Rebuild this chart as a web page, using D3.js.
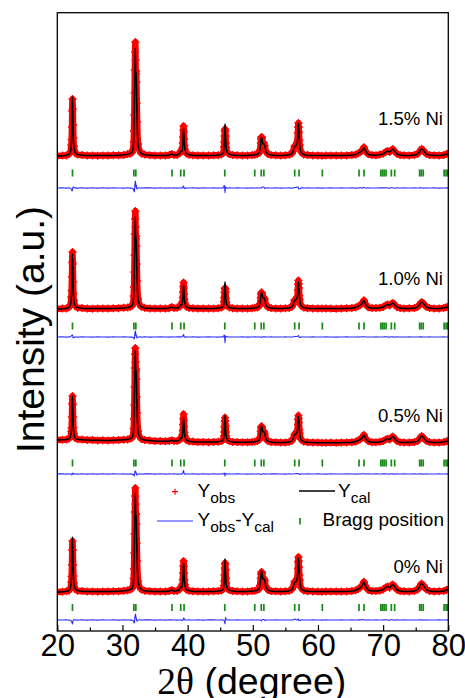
<!DOCTYPE html>
<html>
<head>
<meta charset="utf-8">
<script src="https://cdn.jsdelivr.net/npm/d3@7"></script>
<style>
  body { margin: 0; background: #fff; }
  svg { display: block; }
  text { font-family: "Liberation Sans", Arial, sans-serif; fill: #000; }
</style>
</head>
<body>
<svg id="chart" width="465" height="698"></svg>
<script>
// ---- data -------------------------------------------------------------
// 2θ sampling (degree), shared by all four refinements
const twoTheta = [
  20.0, 20.8, 21.4, 21.8, 22.0, 22.15, 22.2, 22.25, 22.29, 22.33, 22.37, 22.42, 22.47, 22.55, 22.75, 23.1,
  23.8, 24.6, 25.4, 26.2, 27.0, 27.8, 28.6, 29.4, 30.2, 30.8, 31.2, 31.45,
  31.6, 31.72, 31.77, 31.82, 31.86, 31.9, 31.94, 31.97, 32.01, 32.05, 32.1, 32.14, 32.19, 32.25, 32.4, 32.6, 32.9, 33.4,
  34.2, 35.0, 35.8, 36.6, 37.2, 37.56, 37.9, 38.4,
  38.8, 38.94, 39.1, 39.22, 39.26, 39.3, 39.34, 39.38, 39.42, 39.46, 39.51, 39.58, 39.8, 40.2,
  40.8, 41.6, 42.4, 43.2, 44.0, 44.7, 45.2, 45.45,
  45.58, 45.62, 45.66, 45.7, 45.74, 45.78, 45.82, 45.87, 45.92, 46.1, 46.4, 46.9,
  47.6, 48.4, 49.2, 49.9, 50.3, 50.7, 50.95,
  51.1, 51.22, 51.27, 51.32, 51.37, 51.42, 51.55, 51.7, 51.82, 52.0, 52.3, 52.8,
  53.5, 54.3, 55.0, 55.6, 56.0,
  56.2, 56.4, 56.6, 56.8, 56.92, 56.96, 57.0, 57.04, 57.08, 57.14, 57.2, 57.4, 57.8,
  58.4, 59.2, 60.0, 60.6, 61.2, 62.0, 62.8, 63.6, 64.4, 65.2, 65.8,
  66.2, 66.5, 66.8, 67.05, 67.3, 67.7,
  68.3, 68.9, 69.5,
  70.0, 70.4, 70.7, 71.0, 71.25, 71.5, 71.75, 72.1, 72.6,
  73.2, 74.0, 74.8, 75.3,
  75.6, 75.9, 76.2, 76.6, 77.1,
  77.8, 78.6, 79.3, 79.7, 80.0
];

const sampleNames = ["0% Ni", "0.5% Ni", "1.0% Ni", "1.5% Ni"];

// observed / calculated intensities (a.u.)
const obs0 = [
  0.1, 0.3, 0.8, 1.6, 3.6, 10, 15.5, 27, 42, 51, 42, 27, 16, 9.2, 3.4, 1.3,
  0.9, 0.4, 0.5, 0.3, 0.5, 0.5, 0.7, 0.7, 1.3, 1.8, 2.5, 3.4,
  5.5, 13.5, 23, 39, 58, 80, 96, 104, 88, 78, 78, 68, 49, 31, 11, 5.2, 2.4, 1.3,
  0.8, 0.4, 0.6, 0.5, 1, 2.1, 0.9, 1.1,
  3.1, 5, 4.5, 8, 12.5, 19, 26, 31, 25.5, 19, 12, 7.5, 2.6, 1.3,
  0.7, 0.6, 0.4, 0.6, 0.7, 0.9, 1.6, 3,
  6.5, 11, 17, 24, 29, 28, 22, 14, 9, 3.6, 1.9, 0.9,
  0.7, 0.5, 0.6, 0.9, 1.3, 1.9, 3,
  6.5, 14, 18, 20, 20, 18.5, 13.5, 13.5, 11.5, 5.6, 2.2, 1,
  0.7, 0.5, 0.7, 1.2, 2.6,
  5, 10.5, 10.5, 13.5, 23.5, 30, 35, 31, 25, 17, 12, 4.3, 1.5,
  0.8, 0.6, 0.4, 0.3, 0.5, 0.4, 0.4, 0.6, 0.6, 1, 1.7,
  3.1, 4.6, 6.9, 10.2, 6, 2.1,
  1, 1, 1.5,
  2.5, 4.6, 5.5, 4.3, 6.5, 7.6, 5.5, 2.5, 1,
  0.7, 0.6, 1.1, 2.5,
  5.5, 8.6, 6.5, 2.7, 1.1,
  0.6, 0.7, 1.1, 2.1, 2.7
];
const cal0 = [
  0, 0.3, 0.7, 1.7, 3.8, 11, 17, 30, 45, 55, 44, 28, 16, 9, 3.3, 1.4,
  0.8, 0.5, 0.4, 0.4, 0.4, 0.5, 0.6, 0.8, 1.2, 1.8, 2.6, 3.5,
  6, 15, 26, 42, 60, 77, 91, 99, 82, 74, 77, 66, 50, 32, 11, 5, 2.5, 1.2,
  0.7, 0.5, 0.5, 0.6, 0.9, 2, 0.9, 1.2,
  3, 5, 4.6, 8.5, 12.5, 19, 25, 29, 23.5, 17.5, 11.5, 7.2, 2.6, 1.2,
  0.7, 0.5, 0.5, 0.5, 0.6, 0.9, 1.5, 3,
  7.2, 12, 18.5, 27, 33, 27, 19.5, 12.5, 8.2, 3.6, 1.8, 0.9,
  0.6, 0.5, 0.6, 0.8, 1.3, 1.8, 3,
  6.5, 14, 18.5, 21, 20.5, 18.5, 13, 13, 12, 5.5, 2.2, 1,
  0.6, 0.5, 0.7, 1.2, 2.5,
  5, 9.5, 10, 13.5, 22.5, 29, 34, 31, 25.5, 17.5, 12.5, 4.2, 1.5,
  0.8, 0.5, 0.4, 0.4, 0.4, 0.4, 0.4, 0.5, 0.6, 0.9, 1.7,
  3, 4.5, 6.5, 10, 6, 2,
  1, 0.9, 1.5,
  2.4, 4.4, 5.5, 4.4, 6.2, 7.5, 5.6, 2.4, 1,
  0.6, 0.6, 1.1, 2.5,
  5.4, 8.5, 6.6, 2.6, 1.1,
  0.6, 0.6, 1.1, 2, 2.7
];

const obs05 = [
  3.1, 3.3, 3.4, 4.5, 6, 11.5, 15, 26, 39.5, 47, 38.5, 26, 15.5, 9.5, 4.9, 3.7,
  3.4, 2.9, 2.9, 2.6, 2.7, 2.5, 2.8, 2.9, 3.3, 3.6, 4.5, 5.1,
  7, 14.5, 24, 38, 56, 75, 89, 95, 81, 72, 74, 64, 46, 30, 12, 6.6, 4.1, 3.1,
  2.5, 1.9, 1.9, 1.7, 2.1, 2.8, 2.0, 1.9,
  3.5, 5.3, 4.7, 8.5, 12.5, 18.5, 24.5, 28.9, 22.5, 16.5, 10.5, 6.8, 3.1, 1.8,
  1.4, 0.9, 1.0, 0.8, 1.1, 1.2, 2.0, 3.2,
  7, 11, 16, 22, 25.4, 22, 17, 11, 7.2, 3.1, 2.0, 1.1,
  0.9, 0.7, 0.7, 1.1, 1.4, 2.0, 3,
  5.5, 12, 15, 16.7, 16.5, 15, 11.2, 11.5, 9.8, 4.7, 2, 1,
  0.7, 0.5, 0.6, 1.2, 2.3,
  4.5, 8.8, 9.3, 12, 18.5, 23.5, 27.5, 24.5, 20.5, 13.5, 9.8, 3.6, 1.4,
  0.8, 0.4, 0.4, 0.3, 0.2, 0.4, 0.3, 0.4, 0.6, 0.8, 1.4,
  2.7, 3.8, 5.5, 8.2, 4.8, 1.8,
  0.8, 0.8, 1.2,
  2, 3.6, 4.2, 3.5, 5.4, 6.6, 4.7, 2.1, 0.8,
  0.6, 0.5, 1, 2,
  4.5, 7.1, 5.3, 2.2, 0.9,
  0.5, 0.6, 0.9, 1.7, 2.2
];
const cal05 = [
  3, 3.2, 3.5, 4.4, 6, 11.5, 15.5, 27, 39, 47, 38, 25, 15, 9.5, 4.8, 3.8,
  3.3, 3.0, 2.8, 2.7, 2.6, 2.6, 2.7, 2.9, 3.2, 3.7, 4.4, 5.2,
  7.5, 15.5, 26, 40, 56, 73, 86, 93, 78, 70, 73, 64, 47, 31, 12, 6.5, 4.2, 3,
  2.4, 2.0, 1.8, 1.8, 2.0, 2.8, 1.9, 2.0,
  3.5, 5.2, 4.8, 8, 11.5, 16.5, 21.5, 25.4, 20.5, 15.5, 10.5, 7, 3, 1.8,
  1.3, 1.0, 0.9, 0.9, 1.0, 1.3, 1.9, 3.2,
  6.2, 10, 15.5, 22.5, 27.4, 22, 16.5, 10.5, 7, 3.2, 1.9, 1.1,
  0.8, 0.7, 0.8, 1.0, 1.4, 1.9, 3,
  5.5, 12, 15.5, 17.2, 16.8, 15.2, 11.2, 11.2, 10, 4.6, 2, 0.9,
  0.6, 0.5, 0.7, 1.1, 2.3,
  4.5, 8.5, 9, 11.5, 18, 23, 27, 24.5, 20.5, 14, 10, 3.5, 1.4,
  0.7, 0.4, 0.3, 0.3, 0.3, 0.3, 0.3, 0.4, 0.5, 0.8, 1.5,
  2.6, 3.8, 5.3, 8, 4.8, 1.7,
  0.8, 0.7, 1.2,
  1.9, 3.5, 4.2, 3.6, 5.2, 6.5, 4.8, 2, 0.8,
  0.5, 0.5, 0.9, 2,
  4.4, 7, 5.4, 2.1, 0.9,
  0.5, 0.5, 0.9, 1.6, 2.2
];

const obs10 = [
  0, 0.4, 0.6, 1.8, 4, 12, 18.5, 32, 47, 57, 45, 27, 15.5, 8.5, 3.4, 1.3,
  0.9, 0.5, 0.3, 0.5, 0.4, 0.4, 0.7, 0.8, 1.2, 1.6, 2.2, 3.1,
  5, 13, 22, 37, 54, 75, 90, 98, 82, 70, 73, 63, 45, 28, 10, 4.8, 2.2, 1.2,
  0.6, 0.5, 0.6, 0.6, 0.8, 1.9, 0.9, 1.2,
  2.7, 4.6, 4, 7.5, 11.5, 17, 22.5, 26.5, 21, 15, 9.5, 5.8, 2.3, 1.1,
  0.8, 0.4, 0.5, 0.6, 0.6, 0.8, 1.5, 2.7,
  7.5, 11.5, 16.5, 20, 21, 20, 17, 11, 7, 3.1, 1.6, 0.8,
  0.6, 0.6, 0.5, 0.8, 1.3, 1.6, 2.6,
  5.4, 11.5, 15, 16.5, 16.5, 15, 11, 11.5, 10, 4.6, 1.8, 0.9,
  0.6, 0.5, 0.8, 1.1, 2.2,
  4.5, 9, 9.5, 12, 19, 24.5, 28.5, 25.5, 21, 13.5, 9.5, 3.6, 1.4,
  0.8, 0.6, 0.4, 0.4, 0.5, 0.4, 0.3, 0.5, 0.7, 0.9, 1.6,
  2.9, 4, 5.8, 8.7, 5, 1.8,
  0.9, 0.9, 1.3,
  2, 3.8, 4.5, 3.5, 5.2, 6.1, 4.4, 2.1, 0.9,
  0.6, 0.7, 1, 2.2,
  4.6, 7.1, 5.5, 2.2, 1.1,
  0.6, 0.6, 1.1, 1.8, 2.4
];
const cal10 = [
  0, 0.3, 0.7, 1.7, 3.8, 11, 17, 30, 45, 55, 44, 28, 16, 9, 3.3, 1.4,
  0.8, 0.5, 0.4, 0.4, 0.4, 0.5, 0.6, 0.8, 1.1, 1.6, 2.3, 3.2,
  5.5, 14, 24, 39, 55, 72, 85, 92, 76, 68, 72, 61, 46, 29, 10, 4.6, 2.3, 1.1,
  0.7, 0.5, 0.5, 0.6, 0.9, 1.8, 0.9, 1.1,
  2.6, 4.5, 4, 7, 10.5, 15.5, 20.5, 24, 19.5, 14.5, 9.5, 6, 2.2, 1.1,
  0.7, 0.5, 0.5, 0.5, 0.6, 0.9, 1.4, 2.7,
  6, 9.5, 15, 22, 27, 22, 16, 10, 6.7, 3, 1.6, 0.8,
  0.6, 0.5, 0.6, 0.8, 1.2, 1.6, 2.7,
  5.4, 11.5, 15, 17, 16.5, 15, 11, 11, 10, 4.5, 1.8, 0.8,
  0.6, 0.5, 0.7, 1.1, 2.2,
  4.5, 8.5, 9, 11.5, 18, 23, 27, 24.5, 20.5, 14, 10, 3.5, 1.4,
  0.8, 0.5, 0.4, 0.4, 0.4, 0.4, 0.4, 0.5, 0.6, 0.9, 1.6,
  2.8, 4, 5.6, 8.5, 5, 1.8,
  0.9, 0.8, 1.3,
  2, 3.6, 4.5, 3.6, 5, 6, 4.5, 2, 0.9,
  0.6, 0.6, 1, 2.2,
  4.5, 7, 5.5, 2.2, 1,
  0.6, 0.6, 1, 1.8, 2.4
];

const obs15 = [
  0, 0.4, 0.6, 1.9, 3.8, 11, 16.5, 29, 45, 57, 47, 31, 18, 10, 3.6, 1.4,
  0.9, 0.4, 0.5, 0.3, 0.5, 0.4, 0.7, 0.8, 1.1, 1.9, 2.5, 3.4,
  6, 14, 25, 41, 63, 86, 104, 114, 96, 82, 85, 74, 53, 34, 12, 5.6, 2.6, 1.4,
  0.8, 0.4, 0.6, 0.5, 1, 2, 1, 1.1,
  3, 5.2, 4.4, 8.5, 13, 19, 26, 30, 24, 17, 10.5, 6.6, 2.6, 1.2,
  0.8, 0.4, 0.6, 0.5, 0.7, 0.8, 1.6, 3,
  9, 14, 20, 25, 27, 25, 20, 13, 8.5, 3.4, 1.9, 0.9,
  0.7, 0.5, 0.5, 0.9, 1.3, 1.9, 3,
  6, 13, 17, 19, 19, 18, 13, 13, 10.5, 5, 2.1, 0.9,
  0.7, 0.4, 0.7, 1.3, 2.4,
  5, 10, 10.5, 14, 23, 29, 33, 29, 24, 16, 11, 4.2, 1.5,
  0.9, 0.5, 0.5, 0.3, 0.4, 0.5, 0.4, 0.6, 0.6, 1, 1.5,
  2.8, 4.2, 5.6, 8.8, 5, 1.9,
  0.9, 0.8, 1.5,
  2.3, 4.2, 5, 3.9, 5.8, 6.9, 4.8, 2.3, 1,
  0.7, 0.6, 1.1, 2.2,
  4.6, 7.2, 5.4, 2.3, 1,
  0.7, 0.5, 1, 1.9, 2.5
];
const cal15 = [
  0, 0.3, 0.7, 1.8, 4, 12, 18, 32, 48, 59, 47, 30, 17, 9.5, 3.5, 1.5,
  0.8, 0.5, 0.4, 0.4, 0.4, 0.5, 0.6, 0.8, 1.2, 1.8, 2.6, 3.6,
  6.5, 16, 28, 45, 65, 84, 99, 108, 89, 80, 84, 71, 54, 35, 12, 5.4, 2.7, 1.3,
  0.7, 0.5, 0.5, 0.6, 0.9, 2, 0.9, 1.2,
  3, 5, 4.5, 8, 12, 18, 24, 28, 23, 17, 11, 7, 2.5, 1.2,
  0.7, 0.5, 0.5, 0.5, 0.6, 0.9, 1.5, 3,
  7, 11.5, 18, 26, 32, 26, 19, 12, 8, 3.5, 1.8, 0.9,
  0.6, 0.5, 0.6, 0.8, 1.3, 1.8, 3,
  6, 13, 17, 19, 18.5, 17, 12, 12, 11, 5, 2, 0.9,
  0.6, 0.5, 0.7, 1.2, 2.5,
  5, 9.5, 10, 13, 22, 28, 33, 30, 25, 17, 12, 4, 1.5,
  0.8, 0.5, 0.4, 0.4, 0.4, 0.4, 0.4, 0.5, 0.6, 0.9, 1.6,
  2.8, 4, 5.5, 8.3, 5, 1.8,
  0.9, 0.8, 1.4,
  2.2, 4, 5, 4, 5.5, 6.7, 5, 2.2, 1,
  0.6, 0.6, 1, 2.2,
  4.5, 7, 5.5, 2.2, 1,
  0.6, 0.6, 1, 1.8, 2.4
];

// reflection positions (degree)
const braggPositions = [
  22.33, 31.75, 32.05, 37.6, 38.94, 39.45, 45.7, 50.3, 51.3, 51.7,
  56.43, 57.1, 60.67, 66.3, 67.06, 69.65, 69.9, 70.15, 70.45, 71.26, 71.77,
  75.6, 75.85, 76.15, 79.35, 79.65, 79.9
];

const xTicks = [20, 30, 40, 50, 60, 70, 80];
const xMinorTicks = [25, 35, 45, 55, 65, 75];

// vertical stacking of each refinement (a.u.)
const profileOffset = [39, 188, 322, 475];
const diffOffset    = [11, 157, 294, 443];
const braggOffset   = [23.5, 168, 305, 458];

// ---- layout -----------------------------------------------------------
const svg = d3.select("#chart");
const plot = { left: 57.3, right: 448.3, top: 12.7, bottom: 631 };

const x = d3.scaleLinear().domain([20, 80]).range([plot.left, plot.right]);
const y = d3.scaleLinear().domain([0, 618]).range([plot.bottom, 13]);

const series = [
  { name: sampleNames[0], obs: obs0,  cal: cal0,  labelY: 573   },
  { name: sampleNames[1], obs: obs05, cal: cal05, labelY: 421.7 },
  { name: sampleNames[2], obs: obs10, cal: cal10, labelY: 285   },
  { name: sampleNames[3], obs: obs15, cal: cal15, labelY: 125   }
];

svg.append("defs").append("clipPath").attr("id", "plot-clip")
  .append("rect")
  .attr("x", plot.left).attr("y", plot.top)
  .attr("width", plot.right - plot.left).attr("height", plot.bottom - plot.top);

const g = svg.append("g").attr("clip-path", "url(#plot-clip)");

const line = d3.line().curve(d3.curveMonotoneX);
const crossPath = "M-4,0H4M0,-4V4";

series.forEach((s, i) => {
  const off = profileOffset[i];
  const obsPts = twoTheta.map((t, k) => [x(t), y(off + s.obs[k])]);
  const calPts = twoTheta.map((t, k) => [x(t), y(off + s.cal[k])]);
  const difPts = twoTheta.map((t, k) => [x(t), y(diffOffset[i] + s.obs[k] - s.cal[k])]);

  // observed: dense red band with "+" symbols
  g.append("path")
    .attr("d", line(obsPts))
    .attr("fill", "none")
    .attr("stroke", "#ff0000")
    .attr("stroke-width", 6.5)
    .attr("stroke-linejoin", "round")
    .attr("stroke-linecap", "round");
  g.append("g").selectAll("path")
    .data(obsPts)
    .join("path")
    .attr("transform", d => `translate(${d[0]},${d[1]})`)
    .attr("d", crossPath)
    .attr("stroke", "#ff0000")
    .attr("stroke-width", 1.3);

  // calculated profile
  g.append("path")
    .attr("d", line(calPts))
    .attr("fill", "none")
    .attr("stroke", "#000")
    .attr("stroke-width", 1.5)
    .attr("stroke-linejoin", "round");

  // Bragg reflections
  g.append("g").selectAll("line")
    .data(braggPositions)
    .join("line")
    .attr("x1", d => x(d)).attr("x2", d => x(d))
    .attr("y1", y(braggOffset[i] + 3.6)).attr("y2", y(braggOffset[i] - 3.6))
    .attr("stroke", "#178a17")
    .attr("stroke-width", 1.7);

  // difference curve
  g.append("path")
    .attr("d", line(difPts))
    .attr("fill", "none")
    .attr("stroke", "#2a2aff")
    .attr("stroke-width", 1.1);

  svg.append("text")
    .attr("x", 443).attr("y", s.labelY)
    .attr("text-anchor", "end")
    .attr("font-size", 18.6)
    .text(s.name);
});

// ---- frame and axis ---------------------------------------------------
svg.append("rect")
  .attr("x", plot.left).attr("y", plot.top)
  .attr("width", plot.right - plot.left).attr("height", plot.bottom - plot.top)
  .attr("fill", "none").attr("stroke", "#000").attr("stroke-width", 1.3);

const xAxis = svg.append("g")
  .attr("transform", `translate(0,${plot.bottom})`)
  .call(d3.axisBottom(x).tickValues(xTicks).tickSize(-6).tickPadding(3));
xAxis.select(".domain").remove();
xAxis.selectAll(".tick line").attr("stroke", "#000").attr("stroke-width", 1.2);
xAxis.selectAll(".tick text")
  .attr("font-size", 31)
  .attr("font-family", "'Liberation Sans', Arial, sans-serif")
  .attr("fill", "#000");

const xMinor = svg.append("g")
  .attr("transform", `translate(0,${plot.bottom})`)
  .call(d3.axisBottom(x).tickValues(xMinorTicks).tickSize(-3.5).tickFormat(""));
xMinor.select(".domain").remove();
xMinor.selectAll(".tick line").attr("stroke", "#000").attr("stroke-width", 1.2);

// axis titles
const xTitle = svg.append("text")
  .attr("x", (plot.left + plot.right) / 2 - 1)
  .attr("y", 694)
  .attr("text-anchor", "middle")
  .attr("font-size", 37.5);
xTitle.append("tspan").attr("font-family", "'Liberation Serif', 'Times New Roman', serif").text("2θ");
xTitle.append("tspan").text(" (degree)");

svg.append("text")
  .attr("transform", "translate(43.5,329.5) rotate(-90)")
  .attr("text-anchor", "middle")
  .attr("font-size", 39)
  .text("Intensity (a.u.)");

// ---- legend -----------------------------------------------------------
const leg = svg.append("g");
const subText = (sel, parts) => {
  parts.forEach(p => {
    const t = sel.append("tspan").text(p.t);
    if (p.sub) t.attr("font-size", 15.5).attr("dy", 6);
    else if (p.up) t.attr("dy", -6);
  });
};

leg.append("path")
  .attr("transform", "translate(175,491.7)")
  .attr("d", "M-3,0H3M0,-3V3")
  .attr("stroke", "#ff0000").attr("stroke-width", 1.2);
subText(leg.append("text").attr("x", 197.5).attr("y", 496.7).attr("font-size", 19),
  [{ t: "Y" }, { t: "obs", sub: true }]);

leg.append("line")
  .attr("x1", 299).attr("x2", 335).attr("y1", 491).attr("y2", 491)
  .attr("stroke", "#000").attr("stroke-width", 1.4);
subText(leg.append("text").attr("x", 338).attr("y", 496.7).attr("font-size", 19),
  [{ t: "Y" }, { t: "cal", sub: true }]);

leg.append("line")
  .attr("x1", 157).attr("x2", 193).attr("y1", 521).attr("y2", 521)
  .attr("stroke", "#2a2aff").attr("stroke-width", 1.1);
subText(leg.append("text").attr("x", 197.5).attr("y", 526).attr("font-size", 19),
  [{ t: "Y" }, { t: "obs", sub: true }, { t: "-Y", up: true }, { t: "cal", sub: true }]);

leg.append("line")
  .attr("x1", 300).attr("x2", 300).attr("y1", 518).attr("y2", 524.5)
  .attr("stroke", "#178a17").attr("stroke-width", 1.7);
leg.append("text").attr("x", 322.5).attr("y", 526).attr("font-size", 19)
  .text("Bragg position");
</script>
</body>
</html>
